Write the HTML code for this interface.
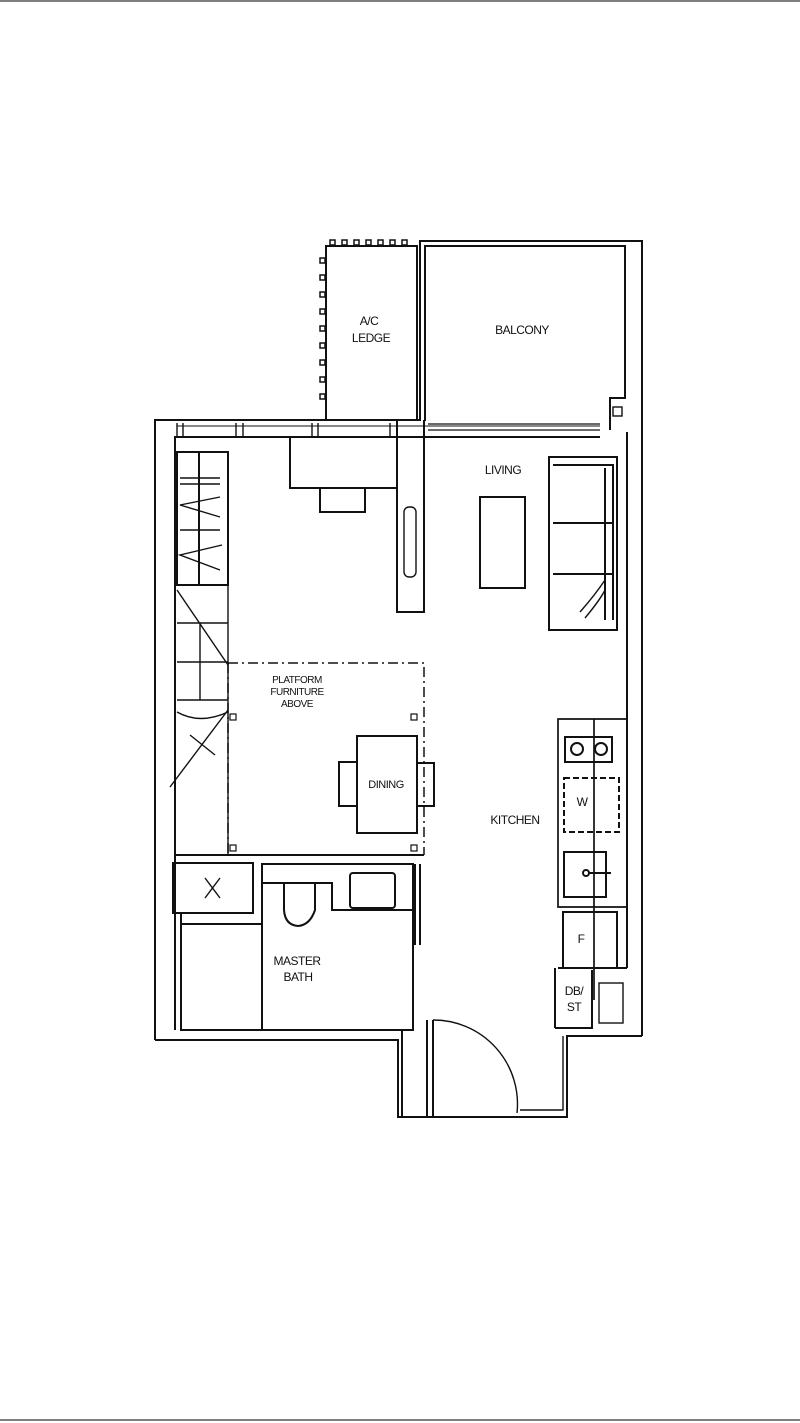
<!DOCTYPE html>
<html><head><meta charset="utf-8"><style>
html,body{margin:0;padding:0;background:#fff}
svg{display:block}
text{font-family:"Liberation Sans",sans-serif;font-size:12px;fill:#111;text-anchor:middle;letter-spacing:-0.5px}
</style></head><body>
<svg width="800" height="1423" viewBox="0 0 800 1423" xmlns="http://www.w3.org/2000/svg">
<line x1="0" y1="1" x2="800" y2="1" stroke="#555" stroke-width="1.5"/>
<line x1="0" y1="1420" x2="800" y2="1420" stroke="#555" stroke-width="1.5"/>
<g fill="none" stroke="#111" stroke-width="2">
<path d="M326 421 V246 H417 V421"/>
<g stroke-width="1.5">
<path d="M330 240 h5 v5 h-5z M342 240 h5 v5 h-5z M354 240 h5 v5 h-5z M366 240 h5 v5 h-5z M378 240 h5 v5 h-5z M390 240 h5 v5 h-5z M402 240 h5 v5 h-5z"/>
<path d="M320 258 h5 v5 h-5z M320 275 h5 v5 h-5z M320 292 h5 v5 h-5z M320 309 h5 v5 h-5z M320 326 h5 v5 h-5z M320 343 h5 v5 h-5z M320 360 h5 v5 h-5z M320 377 h5 v5 h-5z M320 394 h5 v5 h-5z"/>
</g>
<path d="M420 421 V241 H642 V1036"/>
<path d="M425 421 V246 H625 V398 H610 V430"/>
<path d="M627 432 V968"/>
<rect x="613" y="407" width="9" height="9" stroke-width="1.4"/>
<path d="M428 424 H600 M428 430 H600" stroke-width="1.2"/>
<path d="M155 1040 V420 H420"/>
<path d="M175 1030 V437 H600"/>
<path d="M177 423 V437 M183 423 V437 M236 423 V437 M243 423 V437 M312 423 V437 M318 423 V437 M390 423 V437" stroke-width="1.4"/>
<path d="M177 426 H600" stroke-width="1"/>
<rect x="177" y="452" width="51" height="133"/>
<path d="M199 452 V585"/>
<path d="M180 478 H220 M180 484 H220 M180 530 H220" stroke-width="1.4"/>
<path d="M220 497 L180 505 L220 517 M222 545 L180 555 L220 570" stroke-width="1.4"/>
<path d="M177 585 H228 V855 M177 623 H228 M177 662 H228 M177 700 H228 M200 623 V700 M177 590 L228 665 M177 712 Q200 725 228 712 M170 787 L228 710 M190 735 L215 755" stroke-width="1.4"/>
<path d="M175 855 H424" />
<path d="M290 437 V488 H397"/>
<path d="M320 488 V512 H365 V488"/>
<path d="M397 420 V612 H424 V420"/>
<rect x="404" y="507" width="12" height="70" rx="5" stroke-width="1.4"/>
<rect x="480" y="497" width="45" height="91"/>
<rect x="549" y="457" width="68" height="173"/>
<path d="M553 465 H613 V620 M553 523 H613 M553 574 H613 M605 468 V620"/>
<path d="M580 612 Q595 595 605 580 M585 618 Q600 600 605 590" stroke-width="1.4"/>
<path d="M228 663 H424 V855 M228 663 V855" stroke-dasharray="10 4 2 4" stroke-width="1.5"/>
<rect x="230" y="714" width="6" height="6" stroke-width="1.2"/>
<rect x="411" y="714" width="6" height="6" stroke-width="1.2"/>
<rect x="230" y="845" width="6" height="6" stroke-width="1.2"/>
<rect x="411" y="845" width="6" height="6" stroke-width="1.2"/>
<rect x="357" y="736" width="60" height="97"/>
<rect x="339" y="762" width="18" height="44"/>
<rect x="417" y="763" width="17" height="43"/>
<path d="M627 719 H558 V907 H627 M594 719 V1000" stroke-width="1.7"/>
<rect x="565" y="737" width="47" height="25"/>
<circle cx="577" cy="749" r="6"/><circle cx="601" cy="749" r="6"/>
<rect x="564" y="778" width="55" height="54" stroke-dasharray="6 3"/>
<rect x="564" y="852" width="42" height="45"/>
<circle cx="586" cy="873" r="3"/><path d="M589 873 H611"/>
<rect x="563" y="912" width="54" height="56"/>
<path d="M558 968 H627"/>
<path d="M555 1028 V968 M555 1028 H592 V970"/>
<rect x="599" y="983" width="24" height="40" stroke-width="1.4"/>
<rect x="173" y="863" width="80" height="50"/>
<path d="M205 878 L220 898 M220 878 L205 898" stroke-width="1.4"/>
<path d="M181 913 V1030 H413 V864 H262 V1030 M181 924 H262 M262 883 H332 V910 H413" />
<path d="M284 883 V910 Q285 925 298 926 Q310 925 315 910 V883"/>
<rect x="350" y="873" width="45" height="35" rx="3"/>
<path d="M415 864 V945 M420 864 V945"/>
<path d="M155 1040 H398 V1117 H567 V1036 H642"/>
<path d="M402 1030 V1117 M427 1020 V1117 M433 1020 V1117"/>
<path d="M433 1020 A84 84 0 0 1 517 1113" stroke-width="1.4"/>
<path d="M520 1110 H563 V1036" stroke-width="1.4"/>
</g>
<text x="369" y="325">A/C</text><text x="371" y="342">LEDGE</text>
<text x="522" y="334">BALCONY</text>
<text x="503" y="474">LIVING</text>
<text x="297" y="683" style="font-size:10px">PLATFORM</text>
<text x="297" y="695" style="font-size:10px">FURNITURE</text>
<text x="297" y="707" style="font-size:10px">ABOVE</text>
<text x="386" y="788" style="font-size:11px">DINING</text>
<text x="515" y="824">KITCHEN</text>
<text x="297" y="965">MASTER</text><text x="298" y="981">BATH</text>
<text x="574" y="995">DB/</text><text x="574" y="1011">ST</text>
<text x="582" y="806">W</text>
<text x="581" y="943">F</text>
</svg>
</body></html>
